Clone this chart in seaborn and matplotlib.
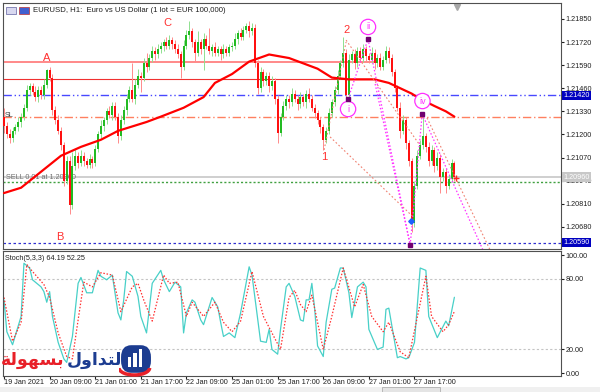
import numpy as np
import pandas as pd
import matplotlib
matplotlib.use('Agg')
import matplotlib.pyplot as plt
import seaborn as sns
from matplotlib.patches import Rectangle, FancyBboxPatch, Arc

sns.set_style('white')
plt.rcParams['font.family'] = ['Liberation Sans', 'DejaVu Sans']

# ---- EURUSD H1 candles (close per bar, wicks in pips) ----
open_first = 1.2130
closes = [
    1.2125, 1.2120, 1.2118, 1.2122, 1.2124, 1.2127, 1.2130,
    1.2135, 1.2145, 1.2147, 1.2144,
    1.2141, 1.2145, 1.2142, 1.2148,
    1.2156, 1.2152,
    1.2134, 1.2128, 1.2122, 1.2114, 1.2094, 1.2105, 1.2080, 1.2102, 1.2108,
    1.2104, 1.2108, 1.2105, 1.2103, 1.2106, 1.2104,
    1.2112, 1.2120, 1.2125, 1.2128,
    1.2133, 1.2131, 1.2136, 1.2130,
    1.2119, 1.2128,
    1.2134, 1.2140, 1.2145, 1.2140, 1.2148,
    1.2153, 1.2152, 1.2160, 1.2158,
    1.2163, 1.2167, 1.2165, 1.2168, 1.2170,
    1.2172, 1.2170, 1.2173, 1.2171, 1.2168,
    1.2165, 1.2158, 1.2170,
    1.2176, 1.2178, 1.2172, 1.2166,
    1.2172, 1.2168, 1.2174, 1.2170, 1.2167,
    1.2169, 1.2166, 1.2168, 1.2165, 1.2168, 1.2166, 1.2169,
    1.2170, 1.2174, 1.2177, 1.2175, 1.2179, 1.2181, 1.2178, 1.2180,
    1.2160, 1.2146,
    1.2155, 1.2150, 1.2153, 1.2147, 1.2150,
    1.2140, 1.2121,
    1.2130, 1.2136, 1.2140, 1.2138,
    1.2143, 1.2140, 1.2137, 1.2141, 1.2138, 1.2143, 1.2140,
    1.2135, 1.2132, 1.2128, 1.2124,
    1.2117,
    1.2122, 1.2132, 1.2138, 1.2145, 1.2153, 1.2160, 1.2166,
    1.2142, 1.2162,
    1.2165, 1.2160, 1.2167, 1.2163, 1.2168, 1.2164,
    1.2162, 1.2166, 1.2160, 1.2163, 1.2158,
    1.2162, 1.2167, 1.2163,
    1.2155, 1.2146,
    1.2135, 1.2122,
    1.2128, 1.2115, 1.2105,
    1.2070,
    1.2091, 1.2108, 1.2114, 1.2119, 1.2113, 1.2105, 1.2111, 1.2102, 1.2107,
    1.2096, 1.2099, 1.2091, 1.2095, 1.2104, 1.2096,
]
up_wick = [
    5, 2, 3, 2, 2, 3, 2, 2, 3, 2, 2, 3, 2, 2, 3, 1, 2, 2, 2, 3,
    2, 2, 3, 3, 8, 4, 2, 3, 2, 2, 3, 2, 2, 2, 3, 2, 2, 3, 2, 2,
    2, 3, 2, 3, 2, 15, 3, 4, 2, 3, 6, 2, 3, 2, 3, 2, 2, 3, 3, 2,
    2, 3, 2, 3, 3, 6, 2, 2, 6, 2, 3, 2, 10, 2, 3, 2, 2, 3, 2, 2,
    2, 3, 2, 3, 2, 2, 3, 3, 2, 2, 3, 2, 2, 2, 3, 2, 2, 2, 3, 2,
    2, 3, 2, 2, 3, 2, 2, 3, 2, 2, 2, 2, 2, 2, 3, 2, 2, 3, 2, 9,
    2, 3, 2, 3, 2, 2, 3, 2, 2, 3, 2, 2, 3, 2, 3, 2, 2, 2, 2, 3,
    3, 2, 2, 2, 3, 3, 3, 11, 2, 3, 3, 2, 3, 2, 2, 2, 2, 2, 1,
]
dn_wick = [
    4, 2, 3, 2, 2, 2, 3, 2, 2, 3, 2, 2, 3, 2, 2, 2, 2, 3, 2, 2,
    3, 3, 2, 5, 2, 2, 3, 2, 3, 2, 2, 3, 2, 2, 2, 3, 2, 2, 3, 2,
    4, 2, 2, 3, 2, 2, 3, 2, 8, 2, 3, 2, 2, 3, 2, 2, 3, 2, 2, 3,
    2, 2, 6, 2, 2, 2, 3, 5, 2, 3, 12, 2, 2, 3, 2, 2, 3, 2, 2, 2,
    2, 2, 3, 2, 2, 2, 3, 2, 2, 3, 2, 3, 2, 3, 2, 3, 6, 2, 2, 2,
    3, 2, 2, 3, 2, 2, 3, 2, 2, 3, 2, 3, 6, 2, 2, 2, 2, 2, 2, 2,
    2, 2, 2, 3, 2, 2, 2, 3, 2, 2, 3, 2, 2, 2, 2, 3, 2, 2, 2, 4,
    2, 3, 3, 5, 2, 2, 2, 2, 3, 3, 2, 3, 2, 9, 2, 4, 2, 2, 2,
]

# moving average (vertices)
ma_bars = [0, 6, 13, 20, 27, 34, 40, 50, 55, 63, 70, 74, 80, 86, 93, 100,
           110, 115, 121, 130, 135, 139, 143, 146, 151, 155, 158]
ma_vals = [1.2087, 1.2090, 1.2099, 1.2108, 1.2113, 1.2117, 1.2122, 1.2127,
           1.2130, 1.2135, 1.2141, 1.2149, 1.2154, 1.2161, 1.2165, 1.2163,
           1.2157, 1.2152, 1.2151, 1.2151, 1.2149, 1.2146, 1.2143, 1.2140,
           1.2136, 1.2133, 1.2130]

# stochastic %K and %D (vertices)
k_bars = [0, 1, 3, 6, 7, 9, 10, 13, 14, 15, 16, 17, 19, 21, 22, 24, 26, 27, 29,
          31, 33, 34, 36, 38, 40, 41, 42, 43, 45, 47, 48, 50, 52, 55, 56, 58,
          60, 62, 63, 64, 66, 67, 69, 70, 73, 75, 76, 77, 79, 81, 83, 86, 87,
          90, 92, 93, 94, 96, 97, 99, 100, 102, 104, 105, 106, 107, 108, 109,
          110, 112, 113, 115, 116, 118, 119, 121, 122, 124, 126, 127, 128, 131,
          133, 134, 135, 138, 139, 141, 142, 144, 146, 148, 149, 152, 155, 156,
          158]
k_vals = [62, 35, 24, 48, 93, 89, 79, 73, 69, 60, 69, 48, 26, 12, 9, 31, 76, 81,
          68, 68, 87, 82, 79, 83, 51, 45, 62, 86, 82, 65, 48, 34, 76, 87, 79, 69,
          77, 73, 34, 51, 62, 60, 45, 41, 64, 56, 43, 31, 34, 30, 51, 90, 83,
          27, 26, 37, 20, 16, 37, 73, 76, 65, 45, 44, 62, 62, 76, 54,
          23, 14, 43, 71, 72, 89, 89, 68, 47, 73, 77, 73, 37, 20,
          22, 54, 55, 13, 14, 12, 13, 26, 89, 87, 48, 30, 44, 40,
          64.19]
d_bars = [0, 3, 6, 8, 10, 14, 16, 19, 22, 24, 26, 28, 31, 34, 38, 41, 45, 47,
          49, 52, 56, 58, 61, 64, 66, 70, 74, 77, 80, 83, 87, 91, 94, 97, 100,
          102, 104, 106, 108, 112, 115, 119, 123, 126, 129, 133, 135, 139, 142,
          148, 150, 154, 156, 158]
d_vals = [64, 27, 43, 92, 86, 75, 64, 34, 14, 12, 45, 77, 73, 85, 83, 52, 73, 76,
          62, 44, 83, 76, 77, 48, 60, 48, 60, 43, 35, 44, 86, 48, 34, 20, 64,
          70, 58, 52, 66, 20, 48, 89, 56, 75, 48, 35, 43, 18, 13,
          82, 48, 35, 41, 52.25]

# horizontal levels
res_high = 1.21607
res_low = 1.21511
blue_level = 1.21420
sl_level = 1.21298
bid_level = 1.20960
sell_level = 1.20932
low_level = 1.20590

price_ticks = [1.21850, 1.21720, 1.21590, 1.21460, 1.21330,
               1.21200, 1.21070, 1.20940, 1.20810, 1.20680]
stoch_ticks = [100, 80, 20, 0]
date_ticks = [0, 16, 32, 48, 64, 80, 96, 112, 128, 144]
date_labels = ['19 Jan 2021', '20 Jan 09:00', '21 Jan 01:00', '21 Jan 17:00',
               '22 Jan 09:00', '25 Jan 01:00', '25 Jan 17:00', '26 Jan 09:00',
               '27 Jan 01:00', '27 Jan 17:00']

# wave labels
wave_letters = ['A', 'B', 'C', '1', '2']
wave_letter_bars = [15, 19.6, 57.5, 112.3, 120]
wave_letter_prices = [1.21630, 1.20623, 1.21827, 1.21073, 1.21788]
circ_labels = ['i', 'ii', 'iv']
circ_bars = [120.7, 127.7, 146.8]
circ_prices = [1.21343, 1.21805, 1.21388]
pivot_bars = [120.7, 127.7, 146.7, 142.5]
pivot_prices = [1.21400, 1.21737, 1.21315, 1.20578]

# dotted wave lines: (bar0, price0, bar1, price1)
salmon_lines = [(112.3, 1.21113, 120.0, 1.21720),
                (114.4, 1.21186, 143.2, 1.20741),
                (120.0, 1.21731, 145.6, 1.21146),
                (148.4, 1.21293, 170.5, 1.20550)]
magenta_lines = [(120.7, 1.21400, 127.7, 1.21737),
                 (127.7, 1.21737, 142.5, 1.20578),
                 (130.2, 1.21484, 142.5, 1.20578),
                 (142.5, 1.20578, 146.7, 1.21315),
                 (146.7, 1.21315, 168.0, 1.20550)]

# ---- build candle table ----
df = pd.DataFrame({'bar': np.arange(len(closes)), 'close': closes})
df['open'] = [open_first] + closes[:-1]
pip = 0.0001
body_top = df[['open', 'close']].max(axis=1)
body_bot = df[['open', 'close']].min(axis=1)
df['high'] = body_top + np.array(up_wick) * pip
df['low'] = body_bot - np.array(dn_wick) * pip
bull = df['close'] >= df['open']

fig = plt.figure(figsize=(6, 3.92), dpi=100)
ax = fig.add_axes([0.005, 0.3648, 0.93, 0.6276])
ax2 = fig.add_axes([0.005, 0.0408, 0.93, 0.3189], sharex=ax)

x_lo, x_hi = -0.35, 195.4
small = 5.2

# horizontal lines
ax.hlines([res_high], x_lo, 131, color='#ff6a6a', lw=1.1)
ax.hlines([res_low], x_lo, 131, color='#f03030', lw=0.8)
ax.axhline(blue_level, color='#4848ff', lw=1.0, ls=(0, (6, 2, 1, 2, 1, 2)))
ax.axhline(sl_level, color='#ff8060', lw=1.0, ls=(0, (6, 2, 1, 2)))
ax.axhline(bid_level, color='#cfcfcf', lw=1.4)
ax.axhline(sell_level, color='#40a040', lw=1.0, ls=(0, (1.5, 1.5)))
ax.axhline(low_level, color='#3030d0', lw=0.9, ls=(0, (2, 2)))

# candles
wick_col = np.where(bull, '#8fe08f', '#ff8a8a')
body_col = np.where(bull, '#22bb22', '#ff1010')
ax.vlines(df['bar'], df['low'], df['high'], colors=wick_col, lw=0.7, zorder=3)
heights = np.maximum(body_top - body_bot, 0.00003)
ax.bar(df['bar'], heights, bottom=body_bot, width=0.7, color=body_col,
       linewidth=0, zorder=4)

# moving average
sns.lineplot(x=ma_bars, y=ma_vals, ax=ax, color='#ff0000', lw=1.6,
             legend=False, zorder=5)

# wave lines
for b0, p0, b1, p1 in salmon_lines:
    ax.plot([b0, b1], [p0, p1], color='#f08070', lw=0.8, ls=(0, (1.5, 2)),
            zorder=6)
for b0, p0, b1, p1 in magenta_lines:
    ax.plot([b0, b1], [p0, p1], color='#ff30ff', lw=0.9, ls=(0, (1.2, 1.6)),
            zorder=6)

for t, b, p in zip(wave_letters, wave_letter_bars, wave_letter_prices):
    ax.text(b, p, t, color='#ff3030', fontsize=8, ha='center', va='center',
            zorder=7)
for t, b, p in zip(circ_labels, circ_bars, circ_prices):
    ax.text(b, p, t, color='#ff30ff', fontsize=6.5, ha='center', va='center',
            zorder=7, bbox=dict(boxstyle='circle,pad=0.35', fc='white',
                                ec='#ff30ff', lw=0.9))
ax.plot(pivot_bars, pivot_prices, ls='none', marker='s', ms=2.5,
        color='#700070', zorder=8)
ax.plot([142.8], [1.20713], ls='none', marker='D', ms=2.8, color='#2060ff',
        zorder=8)
ax.plot([158.6], [1.20955], ls='none', marker='+', ms=4, mew=1.0,
        color='#ff2020', zorder=8)
ax.plot([158.9], [0.985], transform=ax.get_xaxis_transform(), marker='v',
        ms=4, color='#a8a8a8', clip_on=False)

ax.text(0.004, sl_level + 0.00010, 'SL', transform=ax.get_yaxis_transform(),
        fontsize=small, color='#404040', va='center')
ax.text(0.005, bid_level - 0.00002, 'SELL 0.01 at 1.20960',
        transform=ax.get_yaxis_transform(), fontsize=small, color='#707070',
        va='center')
ax.text(0.054, 0.985, 'EURUSD, H1:  Euro vs US Dollar (1 lot = EUR 100,000)',
        transform=ax.transAxes, fontsize=5.6, va='top', color='#202020')
# toolbar icons next to the title
ax.add_patch(Rectangle((0.006, 0.955), 0.018, 0.03, transform=ax.transAxes,
                       fc='#d8d8f0', ec='#6060a0', lw=0.5))
ax.add_patch(Rectangle((0.029, 0.955), 0.018, 0.03, transform=ax.transAxes,
                       fc='#4060d0', ec='#c03030', lw=0.5))

ax.set_xlim(x_lo, x_hi)
ax.set_ylim(1.20555, 1.21940)
ax.yaxis.tick_right()
ax.set_yticks(price_ticks)
ax.set_yticklabels([f'{v:.5f}' for v in price_ticks])
ax.tick_params(axis='y', labelsize=small, length=2, pad=1.5, colors='#202020')
ax.tick_params(axis='x', labelbottom=False, bottom=False)
ax.set_xlabel('')
ax.set_ylabel('')

for val, fc in [(blue_level, '#0000c0'), (bid_level, '#c8c8c8'),
                (low_level, '#0000c0')]:
    ax.text(1.004, val, f'{val:.5f}', transform=ax.get_yaxis_transform(),
            fontsize=small, color='white', va='center', ha='left', zorder=10,
            bbox=dict(boxstyle='square,pad=0.15', fc=fc, ec='none'))

# ---- stochastic panel ----
ax2.axhline(80, color='#c4c4c4', lw=0.8, ls=(0, (2, 2)))
ax2.axhline(20, color='#c4c4c4', lw=0.8, ls=(0, (2, 2)))
sns.lineplot(x=k_bars, y=k_vals, ax=ax2, color='#48d0c8', lw=0.9,
             legend=False)
sns.lineplot(x=d_bars, y=d_vals, ax=ax2, color='#ff3030', lw=0.9,
             ls=(0, (1.2, 1.4)), legend=False)
ax2.text(0.004, 0.965, 'Stoch(5,3,3) 64.19 52.25', transform=ax2.transAxes,
         fontsize=small, va='top', color='#202020')
ax2.set_ylim(-2.5, 103.4)
ax2.yaxis.tick_right()
ax2.set_yticks(stoch_ticks)
ax2.set_yticklabels([f'{v:.2f}' for v in stoch_ticks])
ax2.tick_params(axis='y', labelsize=small, length=2, pad=1.5, colors='#202020')
ax2.set_xticks(date_ticks)
ax2.set_xticklabels(date_labels, ha='left')
ax2.tick_params(axis='x', labelsize=small, length=2, pad=0.5, bottom=True,
                colors='#202020')
ax2.set_xlabel('')
ax2.set_ylabel('')

for a in (ax, ax2):
    for s in a.spines.values():
        s.set_color('#505050')
        s.set_linewidth(0.8)

# window chrome at the bottom
fig.patches.append(Rectangle((0, 0), 1, 0.012, transform=fig.transFigure,
                             fc='#f0f0f0', ec='none', zorder=0))
fig.patches.append(Rectangle((382 / 600, 0), 58 / 600, 0.014,
                             transform=fig.transFigure, fc='#e4e4e4',
                             ec='#b0b0b0', lw=0.6))

# watermark logo: "التداول بسهولة"
word_easy = '\uFE94\uFEDF\uFEEE\uFEEC\uFEB4\uFE91'
word_trade = '\uFEDD\uFEED\uFE8D\uFEAA\uFE98\uFEDF\uFE8D'
fig.text(65 / 600, 1 - 360 / 392, word_easy, color='#e82028', fontsize=12.5,
         fontweight='bold', ha='right', va='center', family=['DejaVu Sans'])
fig.text(67 / 600, 1 - 360 / 392, word_trade, color='#1c3c90', fontsize=12.5,
         fontweight='bold', ha='left', va='center', family=['DejaVu Sans'])
lax = fig.add_axes([119 / 600, 1 - 382 / 392, 34 / 600, 40 / 392])
lax.set_xlim(0, 1)
lax.set_ylim(0, 1)
lax.axis('off')
lax.add_patch(FancyBboxPatch((0.08, 0.25), 0.84, 0.65,
                             boxstyle='round,pad=0.02,rounding_size=0.3',
                             fc='#1c3c90', ec='none'))
for bx, bh in [(0.25, 0.25), (0.42, 0.35), (0.59, 0.45)]:
    lax.add_patch(Rectangle((bx, 0.38), 0.1, bh, fc='white', ec='none'))
lax.add_patch(Arc((0.45, 0.35), 0.9, 0.35, theta1=180, theta2=360,
                  color='#e82028', lw=2.5))

fig.savefig('out.png', dpi=100, facecolor='white')
